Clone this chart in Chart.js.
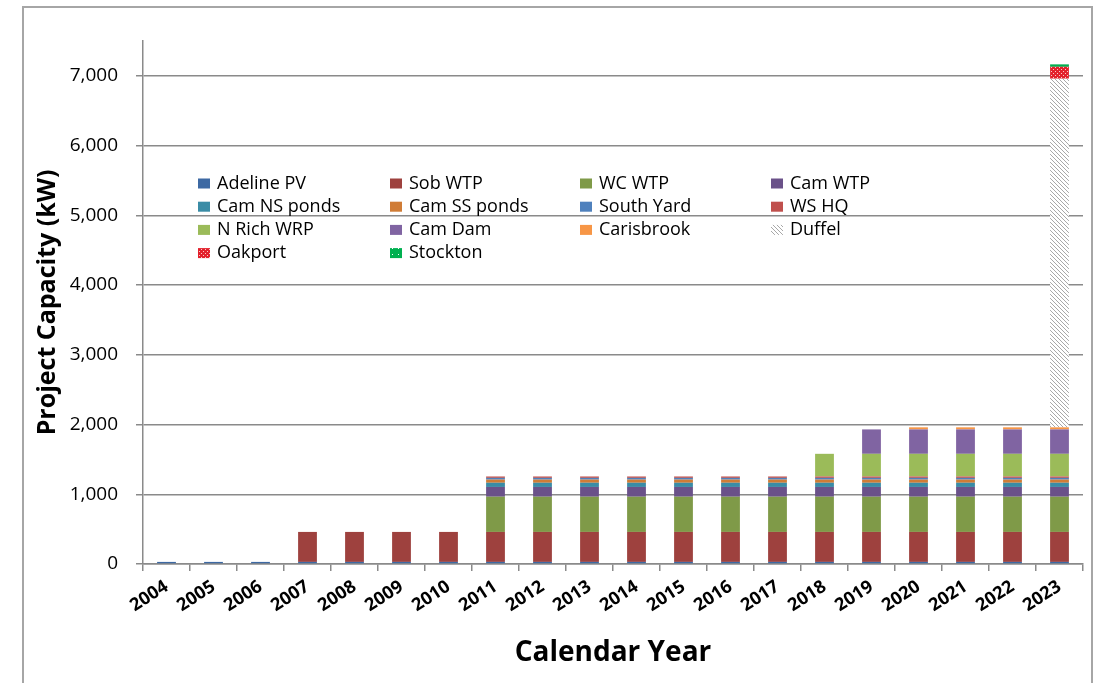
<!DOCTYPE html>
<html><head><meta charset="utf-8">
<script src="https://cdn.jsdelivr.net/npm/chart.js@4/dist/chart.umd.min.js"></script>
<style>html,body{margin:0;padding:0;background:#fff;} canvas{display:block;}</style>
</head><body>
<canvas id="c" width="1102" height="683"></canvas>
<script>
const years = ['2004','2005','2006','2007','2008','2009','2010','2011','2012','2013','2014','2015','2016','2017','2018','2019','2020','2021','2022','2023'];
const adelinePV  = [30,30,30,30,30,30,30,30,30,30,30,30,30,30,30,30,30,30,30,30];
const sobWTP     = [0,0,0,430,430,430,430,430,430,430,430,430,430,430,430,430,430,430,430,430];
const wcWTP      = [0,0,0,0,0,0,0,505,505,505,505,505,505,505,505,505,505,505,505,505];
const camWTP     = [0,0,0,0,0,0,0,140,140,140,140,140,140,140,140,140,140,140,140,140];
const camNSponds = [0,0,0,0,0,0,0,60,60,60,60,60,60,60,60,60,60,60,60,60];
const camSSponds = [0,0,0,0,0,0,0,45,45,45,45,45,45,45,45,45,45,45,45,45];
const southYard  = [0,0,0,0,0,0,0,25,25,25,25,25,25,25,25,25,25,25,25,25];
const wsHQ       = [0,0,0,0,0,0,0,20,20,20,20,20,20,20,20,20,20,20,20,20];
const nRichWRP   = [0,0,0,0,0,0,0,0,0,0,0,0,0,0,325,325,325,325,325,325];
const camDam     = [0,0,0,0,0,0,0,0,0,0,0,0,0,0,0,350,350,350,350,350];
const carisbrook = [0,0,0,0,0,0,0,0,0,0,0,0,0,0,0,0,30,30,30,30];
const duffel     = [0,0,0,0,0,0,0,0,0,0,0,0,0,0,0,0,0,0,0,5000];
const oakport    = [0,0,0,0,0,0,0,0,0,0,0,0,0,0,0,0,0,0,0,170];
const stockton   = [0,0,0,0,0,0,0,0,0,0,0,0,0,0,0,0,0,0,0,35];
const yTicks = [0,1000,2000,3000,4000,5000,6000,7000];

function makePattern(w, h, bg, fg, rects) {
  const c = document.createElement('canvas');
  c.width = w; c.height = h;
  const x = c.getContext('2d');
  x.fillStyle = bg; x.fillRect(0, 0, w, h);
  x.fillStyle = fg;
  rects.forEach(r => x.fillRect(r[0], r[1], r[2] || 1, r[3] || 1));
  return x.createPattern(c, 'repeat');
}
const duffelPat = makePattern(4, 4, '#ffffff', '#a8a8a8', [[0,0],[1,1],[2,2],[3,3]]);
const oakPat = makePattern(4, 4, '#e3202b', '#f6c8c8', [[1,1],[3,3]]);
const stockPat = makePattern(6, 6, '#00b050', '#ffffff', [[2,2]]);

const series = [
  ['Adeline PV', adelinePV, '#3d69a3'],
  ['Sob WTP', sobWTP, '#9e413e'],
  ['WC WTP', wcWTP, '#7f9a48'],
  ['Cam WTP', camWTP, '#6a5189'],
  ['Cam NS ponds', camNSponds, '#3a8ca6'],
  ['Cam SS ponds', camSSponds, '#d07c36'],
  ['South Yard', southYard, '#4f81bd'],
  ['WS HQ', wsHQ, '#c0504d'],
  ['N Rich WRP', nRichWRP, '#9bbb59'],
  ['Cam Dam', camDam, '#8064a2'],
  ['Carisbrook', carisbrook, '#f79646'],
  ['Duffel', duffel, duffelPat],
  ['Oakport', oakport, oakPat],
  ['Stockton', stockton, stockPat]
];

const FONT = 'Open Sans';
const legendCols = [198, 390, 580, 771];
const legendRows = [183.5, 206.7, 229.9, 253.1];

const frameAndLegend = {
  id: 'frameAndLegend',
  beforeDraw(chart) {
    const ctx = chart.ctx;
    ctx.save();
    ctx.fillStyle = '#fff';
    ctx.fillRect(0, 0, chart.width, chart.height);
    ctx.restore();
  },
  afterDraw(chart) {
    const ctx = chart.ctx;
    ctx.save();
    ctx.strokeStyle = '#a6a6a6';
    ctx.lineWidth = 2;
    ctx.strokeRect(23, 7, 1069, 700);
    ctx.font = '18px "' + FONT + '"';
    ctx.textBaseline = 'middle';
    ctx.textAlign = 'left';
    chart.data.datasets.forEach((ds, i) => {
      const col = i % 4, row = Math.floor(i / 4);
      const x = legendCols[col], y = legendRows[row];
      ctx.fillStyle = ds.backgroundColor;
      ctx.fillRect(x, y - 5, 12, 10);
      ctx.fillStyle = '#000';
      ctx.fillText(ds.label, x + 19, y);
    });
    ctx.restore();
  }
};

new Chart(document.getElementById('c'), {
  type: 'bar',
  data: {
    labels: years,
    datasets: series.map(s => ({
      label: s[0], data: s[1], backgroundColor: s[2], borderWidth: 0,
      barPercentage: 0.4, categoryPercentage: 1.0
    }))
  },
  options: {
    responsive: false,
    animation: false,
    layout: { padding: { left: 23, right: 19, top: 41, bottom: 0 } },
    plugins: { legend: { display: false }, tooltip: { enabled: false } },
    scales: {
      x: {
        stacked: true,
        offset: true,
        grid: { display: true, drawOnChartArea: false, drawTicks: true, tickLength: 7, color: '#8a8a8a', lineWidth: 1.5, offset: true },
        border: { display: true, color: '#8a8a8a', width: 1.5 },
        ticks: { autoSkip: false, maxRotation: 33, minRotation: 33, padding: 5, color: '#000',
                 font: { family: FONT, size: 18, weight: 'bold' } },
        title: { display: true, text: 'Calendar Year', color: '#000',
                 font: { family: FONT, size: 28, weight: 'bold' }, padding: { top: 0, bottom: 13 } },
        afterFit: s => { s.height = 119; }
      },
      y: {
        stacked: true,
        min: 0, max: 7500,
        afterBuildTicks: s => { s.ticks = yTicks.map(v => ({ value: v })); },
        ticks: { padding: 18, color: '#000', font: { family: FONT, size: 19 },
                 callback: v => v.toLocaleString('en-US') },
        grid: { color: '#8a8a8a', lineWidth: 1.5, tickLength: 7 },
        border: { color: '#8a8a8a', width: 1.5 },
        title: { display: true, text: 'Project Capacity (kW)', color: '#000',
                 font: { family: FONT, size: 25, weight: 'bold' }, padding: { top: 10, bottom: 0 } },
        afterFit: s => { s.width = 120; }
      }
    }
  },
  plugins: [frameAndLegend]
});
</script>
</body></html>
